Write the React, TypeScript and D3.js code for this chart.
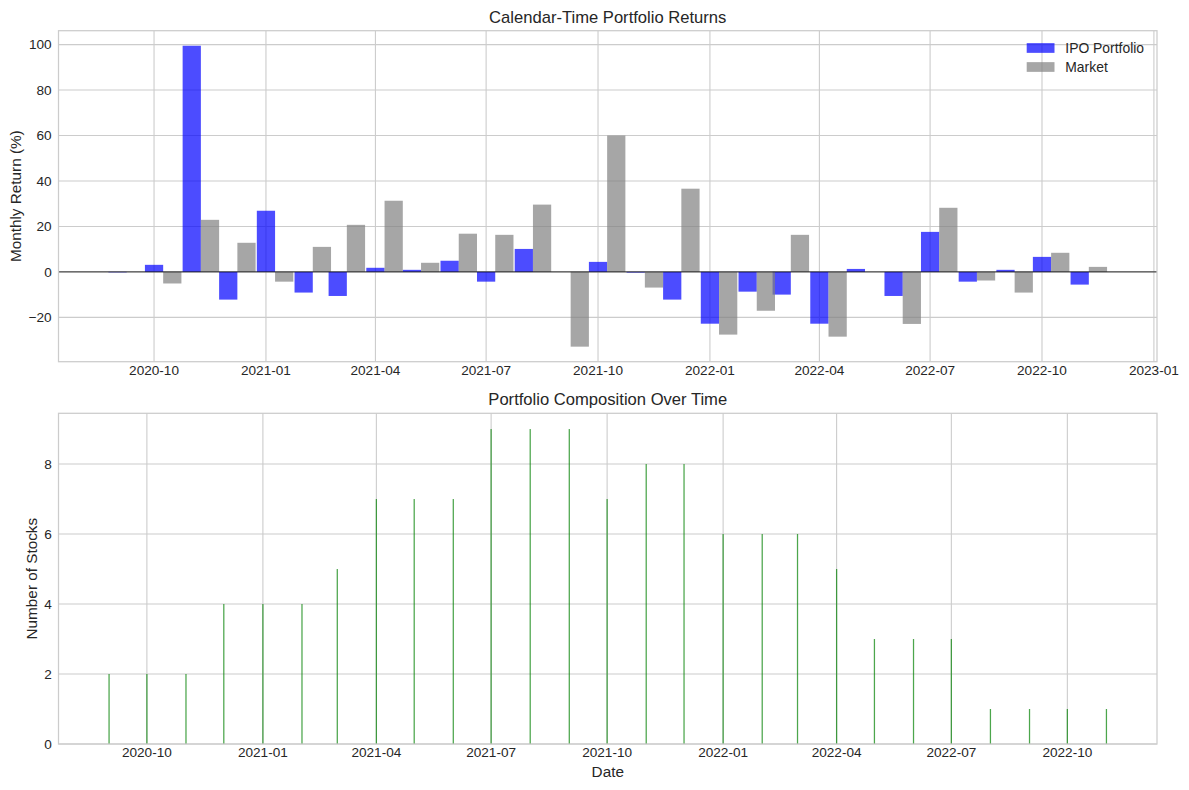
import React from "react";
import * as d3 from "d3";

const months = [
  "2020-09", "2020-10", "2020-11", "2020-12",
  "2021-01", "2021-02", "2021-03", "2021-04", "2021-05", "2021-06",
  "2021-07", "2021-08", "2021-09", "2021-10", "2021-11", "2021-12",
  "2022-01", "2022-02", "2022-03", "2022-04", "2022-05", "2022-06",
  "2022-07", "2022-08", "2022-09", "2022-10", "2022-11",
];
const ipoReturns = [
  -0.2, 3.1, 99.5, -12.2,
  26.9, -9.1, -10.6, 1.8, 0.9, 4.9,
  -4.3, 10.1, 0, 4.4, -0.3, -12.2,
  -22.8, -8.7, -10.0, -22.8, 1.3, -10.6,
  17.6, -4.3, 0.9, 6.6, -5.6,
];
const marketReturns = [
  0, -5.1, 22.9, 12.8,
  -4.3, 11.0, 20.7, 31.3, 4.0, 16.8,
  16.3, 29.6, -32.9, 60.0, -6.9, 36.6,
  -27.6, -17.1, 16.3, -28.5, 0, -22.9,
  28.2, -3.8, -9.1, 8.4, 2.2,
];
const stockCounts = [
  2, 2, 2, 4,
  4, 4, 5, 7, 7, 7,
  9, 9, 9, 7, 8, 8,
  6, 6, 6, 5, 3, 3,
  3, 1, 1, 1, 1,
];
const returnTicks = [-20, 0, 20, 40, 60, 80, 100];
const countTicks = [0, 2, 4, 6, 8];
const seriesNames = ["IPO Portfolio", "Market"];

const W = 1189;
const H = 790;
const DAY = 86400000;
const FONT = "'Liberation Sans', Arial, Helvetica, sans-serif";
const TEXT = "#262626";
const GRID = "#cccccc";
const BLUE = "#0000ff";
const GRAY = "#808080";
const GREEN = "#008000";

const L = 58.5;
const R = 1157;
const T1 = 30.7;
const B1 = 361.7;
const T2 = 413.3;
const B2 = 744;

const parse = d3.utcParse("%Y-%m");
const dates = months.map((m) => parse(m) as Date);
const fmtDate = d3.utcFormat("%Y-%m");
const fmtNum = d3.format("d");

function padded(lo: number, hi: number, frac = 0.05): [number, number] {
  const m = (hi - lo) * frac;
  return [lo - m, hi + m];
}

// top chart scales
const barW = 15 * DAY;
const t0 = +dates[0] - barW / 2;
const t1 = +dates[dates.length - 1] + barW + barW / 2;
const [x1a, x1b] = padded(t0, t1);
const x1 = d3.scaleUtc().domain([new Date(x1a), new Date(x1b)]).range([L, R]);
const allRet = [...ipoReturns, ...marketReturns, 0];
const [y1a, y1b] = padded(d3.min(allRet) as number, d3.max(allRet) as number);
const y1 = d3.scaleLinear().domain([y1a, y1b]).range([B1, T1]);

// bottom chart scales
const lineW = 1 * DAY;
const [x2a, x2b] = padded(+dates[0] - lineW / 2, +dates[dates.length - 1] + lineW / 2);
const x2 = d3.scaleUtc().domain([new Date(x2a), new Date(x2b)]).range([L, R]);
const maxCount = d3.max(stockCounts) as number;
const y2 = d3.scaleLinear().domain([0, maxCount * 1.05]).range([B2, T2]);

const ticks1 = x1.ticks(d3.utcMonth.every(3) as any);
const ticks2 = x2.ticks(d3.utcMonth.every(3) as any);

function Frame({ top, bottom }: { top: number; bottom: number }) {
  return (
    <rect x={L} y={top} width={R - L} height={bottom - top} fill="none" stroke={GRID} strokeWidth={1.25} />
  );
}

export default function App() {
  return (
    <svg
      width={W}
      height={H}
      viewBox={`0 0 ${W} ${H}`}
      style={{ position: "absolute", left: 0, top: 0, background: "#fff" }}
      fontFamily={FONT}
    >
      <rect x={0} y={0} width={W} height={H} fill="#fff" />

      {/* ---------- TOP CHART ---------- */}
      <g>
        {returnTicks.map((t) => (
          <line key={"hg" + t} x1={L} x2={R} y1={y1(t)} y2={y1(t)} stroke={GRID} strokeWidth={1.1} />
        ))}
        {ticks1.map((d) => (
          <line key={"vg" + +d} x1={x1(d)} x2={x1(d)} y1={T1} y2={B1} stroke={GRID} strokeWidth={1.1} />
        ))}
        {dates.map((d, i) => {
          const v = ipoReturns[i];
          const xa = x1(new Date(+d - barW / 2));
          const xb = x1(new Date(+d + barW / 2));
          return (
            <rect
              key={"ipo" + i}
              x={xa}
              width={xb - xa}
              y={Math.min(y1(v), y1(0))}
              height={Math.abs(y1(v) - y1(0))}
              fill={BLUE}
              fillOpacity={0.7}
            />
          );
        })}
        {dates.map((d, i) => {
          const v = marketReturns[i];
          const xa = x1(new Date(+d + barW / 2));
          const xb = x1(new Date(+d + barW + barW / 2));
          return (
            <rect
              key={"mkt" + i}
              x={xa}
              width={xb - xa}
              y={Math.min(y1(v), y1(0))}
              height={Math.abs(y1(v) - y1(0))}
              fill={GRAY}
              fillOpacity={0.7}
            />
          );
        })}
        <line x1={L} x2={R} y1={y1(0)} y2={y1(0)} stroke="#000" strokeWidth={0.8} />
        <Frame top={T1} bottom={B1} />
        {returnTicks.map((t) => (
          <text key={"yl" + t} x={L - 6.8} y={y1(t)} dy="0.35em" textAnchor="end" fontSize={13.6} fill={TEXT}>
            {fmtNum(t)}
          </text>
        ))}
        {ticks1.map((d) => (
          <text key={"xl" + +d} x={x1(d)} y={B1 + 13.5} textAnchor="middle" fontSize={13.6} fill={TEXT}>
            {fmtDate(d)}
          </text>
        ))}
        <text x={(L + R) / 2} y={T1 - 8} textAnchor="middle" fontSize={16.6} fill={TEXT}>
          Calendar-Time Portfolio Returns
        </text>
        <text
          transform={`translate(21,${(T1 + B1) / 2}) rotate(-90)`}
          textAnchor="middle"
          fontSize={15.3}
          fill={TEXT}
        >
          Monthly Return (%)
        </text>
        {/* legend */}
        {seriesNames.map((name, i) => (
          <g key={name} transform={`translate(1026.7,${48 + i * 19})`}>
            <rect x={0} y={-4.85} width={27.8} height={9.7} fill={i === 0 ? BLUE : GRAY} fillOpacity={0.7} />
            <text x={38.6} y={0} dy="0.35em" fontSize={13.9} fill={TEXT}>
              {name}
            </text>
          </g>
        ))}
      </g>

      {/* ---------- BOTTOM CHART ---------- */}
      <g>
        {countTicks.map((t) => (
          <line key={"hg2" + t} x1={L} x2={R} y1={y2(t)} y2={y2(t)} stroke={GRID} strokeWidth={1.1} />
        ))}
        {ticks2.map((d) => (
          <line key={"vg2" + +d} x1={x2(d)} x2={x2(d)} y1={T2} y2={B2} stroke={GRID} strokeWidth={1.1} />
        ))}
        {dates.map((d, i) => {
          const v = stockCounts[i];
          const xa = x2(new Date(+d - lineW / 2));
          const xb = x2(new Date(+d + lineW / 2));
          return (
            <rect
              key={"cnt" + i}
              x={xa}
              width={xb - xa}
              y={y2(v)}
              height={y2(0) - y2(v)}
              fill={GREEN}
              fillOpacity={0.7}
            />
          );
        })}
        <Frame top={T2} bottom={B2} />
        {countTicks.map((t) => (
          <text key={"yl2" + t} x={L - 6.8} y={y2(t)} dy="0.35em" textAnchor="end" fontSize={13.6} fill={TEXT}>
            {fmtNum(t)}
          </text>
        ))}
        {ticks2.map((d) => (
          <text key={"xl2" + +d} x={x2(d)} y={B2 + 13.3} textAnchor="middle" fontSize={13.6} fill={TEXT}>
            {fmtDate(d)}
          </text>
        ))}
        <text x={(L + R) / 2} y={T2 - 8} textAnchor="middle" fontSize={16.6} fill={TEXT}>
          Portfolio Composition Over Time
        </text>
        <text x={(L + R) / 2} y={776.7} textAnchor="middle" fontSize={15.3} fill={TEXT}>
          Date
        </text>
        <text
          transform={`translate(36.5,${(T2 + B2) / 2}) rotate(-90)`}
          textAnchor="middle"
          fontSize={15.3}
          fill={TEXT}
        >
          Number of Stocks
        </text>
      </g>
    </svg>
  );
}
